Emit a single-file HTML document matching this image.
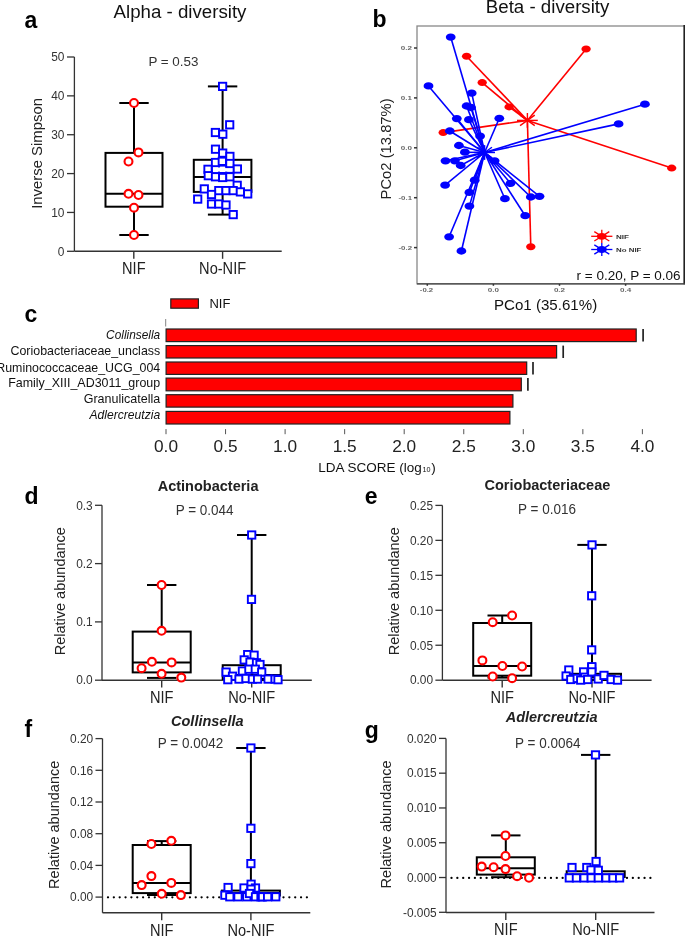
<!DOCTYPE html>
<html><head><meta charset="utf-8"><style>
html,body{margin:0;padding:0;background:#fff;overflow:hidden;}
svg{display:block;will-change:transform;font-family:"Liberation Sans", sans-serif;}
</style></head><body>
<svg width="685" height="936" viewBox="0 0 685 936">
<rect width="685" height="936" fill="#fff"/>
<text x="24.5" y="28.3" font-size="23" text-anchor="start" font-weight="bold" font-style="normal" fill="#000" >a</text>
<text x="180" y="17.5" font-size="18.7" text-anchor="middle" font-weight="normal" font-style="normal" fill="#111" >Alpha - diversity</text>
<line x1="74.4" y1="57.0" x2="74.4" y2="251.3" stroke="#333" stroke-width="1.3" />
<line x1="67.0" y1="251.3" x2="74.4" y2="251.3" stroke="#333" stroke-width="1.3" />
<text x="64.4" y="255.584" font-size="11.9" text-anchor="end" font-weight="normal" font-style="normal" fill="#333" >0</text>
<line x1="67.0" y1="212.44" x2="74.4" y2="212.44" stroke="#333" stroke-width="1.3" />
<text x="64.4" y="216.724" font-size="11.9" text-anchor="end" font-weight="normal" font-style="normal" fill="#333" >10</text>
<line x1="67.0" y1="173.58" x2="74.4" y2="173.58" stroke="#333" stroke-width="1.3" />
<text x="64.4" y="177.864" font-size="11.9" text-anchor="end" font-weight="normal" font-style="normal" fill="#333" >20</text>
<line x1="67.0" y1="134.72000000000003" x2="74.4" y2="134.72000000000003" stroke="#333" stroke-width="1.3" />
<text x="64.4" y="139.00400000000002" font-size="11.9" text-anchor="end" font-weight="normal" font-style="normal" fill="#333" >30</text>
<line x1="67.0" y1="95.86000000000001" x2="74.4" y2="95.86000000000001" stroke="#333" stroke-width="1.3" />
<text x="64.4" y="100.14400000000002" font-size="11.9" text-anchor="end" font-weight="normal" font-style="normal" fill="#333" >40</text>
<line x1="67.0" y1="57.0" x2="74.4" y2="57.0" stroke="#333" stroke-width="1.3" />
<text x="64.4" y="61.284" font-size="11.9" text-anchor="end" font-weight="normal" font-style="normal" fill="#333" >50</text>
<line x1="74.4" y1="251.3" x2="281.7" y2="251.3" stroke="#333" stroke-width="1.4" />
<line x1="133.8" y1="251.3" x2="133.8" y2="258.8" stroke="#333" stroke-width="1.4" />
<line x1="222.6" y1="251.3" x2="222.6" y2="258.8" stroke="#333" stroke-width="1.4" />
<text transform="translate(42.4,153.4) rotate(-90)" font-size="14.9" text-anchor="middle" fill="#222">Inverse Simpson</text>
<text x="173.4" y="66.3" font-size="13.4" text-anchor="middle" font-weight="normal" font-style="normal" fill="#333" >P = 0.53</text>
<text transform="translate(133.8,273.8) scale(1,1.075)" font-size="14.6" text-anchor="middle" font-weight="normal" font-style="normal" fill="#222" >NIF</text>
<text transform="translate(222.6,273.8) scale(1,1.075)" font-size="14.6" text-anchor="middle" font-weight="normal" font-style="normal" fill="#222" >No-NIF</text>
<line x1="134" y1="103" x2="134" y2="152.9" stroke="#000" stroke-width="2.0" />
<line x1="134" y1="206.7" x2="134" y2="235" stroke="#000" stroke-width="2.0" />
<line x1="119.3" y1="103" x2="148.7" y2="103" stroke="#000" stroke-width="2.0" />
<line x1="119.3" y1="235" x2="148.7" y2="235" stroke="#000" stroke-width="2.0" />
<rect x="105.5" y="152.9" width="57.0" height="53.79999999999998" fill="none" stroke="#000" stroke-width="2.0"/>
<line x1="105.5" y1="193.8" x2="162.5" y2="193.8" stroke="#000" stroke-width="2.0" />
<line x1="222.6" y1="86.4" x2="222.6" y2="159.8" stroke="#000" stroke-width="2.0" />
<line x1="222.6" y1="191.9" x2="222.6" y2="214.6" stroke="#000" stroke-width="2.0" />
<line x1="207.9" y1="86.4" x2="237.29999999999998" y2="86.4" stroke="#000" stroke-width="2.0" />
<line x1="207.9" y1="214.6" x2="237.29999999999998" y2="214.6" stroke="#000" stroke-width="2.0" />
<rect x="193.79999999999998" y="159.8" width="57.6" height="32.099999999999994" fill="none" stroke="#000" stroke-width="2.0"/>
<line x1="193.79999999999998" y1="177.1" x2="251.4" y2="177.1" stroke="#000" stroke-width="2.0" />
<circle cx="134" cy="103" r="3.95" fill="#fff" stroke="#ff0000" stroke-width="2.1"/>
<circle cx="138.5" cy="152.4" r="3.95" fill="#fff" stroke="#ff0000" stroke-width="2.1"/>
<circle cx="128.5" cy="161.5" r="3.95" fill="#fff" stroke="#ff0000" stroke-width="2.1"/>
<circle cx="128.5" cy="193.8" r="3.95" fill="#fff" stroke="#ff0000" stroke-width="2.1"/>
<circle cx="138.5" cy="195" r="3.95" fill="#fff" stroke="#ff0000" stroke-width="2.1"/>
<circle cx="134" cy="207.7" r="3.95" fill="#fff" stroke="#ff0000" stroke-width="2.1"/>
<circle cx="134" cy="235" r="3.95" fill="#fff" stroke="#ff0000" stroke-width="2.1"/>
<rect x="211.85" y="165.95" width="7.3" height="7.3" fill="#fff" stroke="#0000ff" stroke-width="1.9"/>
<rect x="219.05" y="165.65" width="7.3" height="7.3" fill="#fff" stroke="#0000ff" stroke-width="1.9"/>
<rect x="226.25" y="165.35" width="7.3" height="7.3" fill="#fff" stroke="#0000ff" stroke-width="1.9"/>
<rect x="213.0" y="167.4" width="19.6" height="4.2" fill="#fff"/>
<rect x="218.95" y="82.75" width="7.3" height="7.3" fill="#fff" stroke="#0000ff" stroke-width="1.9"/>
<rect x="226.05" y="121.15" width="7.3" height="7.3" fill="#fff" stroke="#0000ff" stroke-width="1.9"/>
<rect x="211.75" y="128.85" width="7.3" height="7.3" fill="#fff" stroke="#0000ff" stroke-width="1.9"/>
<rect x="219.15" y="130.55" width="7.3" height="7.3" fill="#fff" stroke="#0000ff" stroke-width="1.9"/>
<rect x="211.85" y="145.55" width="7.3" height="7.3" fill="#fff" stroke="#0000ff" stroke-width="1.9"/>
<rect x="219.05" y="149.45" width="7.3" height="7.3" fill="#fff" stroke="#0000ff" stroke-width="1.9"/>
<rect x="226.25" y="152.75" width="7.3" height="7.3" fill="#fff" stroke="#0000ff" stroke-width="1.9"/>
<rect x="226.25" y="159.85" width="7.3" height="7.3" fill="#fff" stroke="#0000ff" stroke-width="1.9"/>
<rect x="211.85" y="158.85" width="7.3" height="7.3" fill="#fff" stroke="#0000ff" stroke-width="1.9"/>
<rect x="218.65" y="157.65" width="7.3" height="7.3" fill="#fff" stroke="#0000ff" stroke-width="1.9"/>
<rect x="204.35" y="165.65" width="7.3" height="7.3" fill="#fff" stroke="#0000ff" stroke-width="1.9"/>
<rect x="233.75" y="165.35" width="7.3" height="7.3" fill="#fff" stroke="#0000ff" stroke-width="1.9"/>
<rect x="204.65" y="172.05" width="7.3" height="7.3" fill="#fff" stroke="#0000ff" stroke-width="1.9"/>
<rect x="211.85" y="173.15" width="7.3" height="7.3" fill="#fff" stroke="#0000ff" stroke-width="1.9"/>
<rect x="219.05" y="173.85" width="7.3" height="7.3" fill="#fff" stroke="#0000ff" stroke-width="1.9"/>
<rect x="226.25" y="173.15" width="7.3" height="7.3" fill="#fff" stroke="#0000ff" stroke-width="1.9"/>
<rect x="233.55" y="181.65" width="7.3" height="7.3" fill="#fff" stroke="#0000ff" stroke-width="1.9"/>
<rect x="200.65" y="185.25" width="7.3" height="7.3" fill="#fff" stroke="#0000ff" stroke-width="1.9"/>
<rect x="215.15" y="186.95" width="7.3" height="7.3" fill="#fff" stroke="#0000ff" stroke-width="1.9"/>
<rect x="222.35" y="186.95" width="7.3" height="7.3" fill="#fff" stroke="#0000ff" stroke-width="1.9"/>
<rect x="229.55" y="186.95" width="7.3" height="7.3" fill="#fff" stroke="#0000ff" stroke-width="1.9"/>
<rect x="236.75" y="188.25" width="7.3" height="7.3" fill="#fff" stroke="#0000ff" stroke-width="1.9"/>
<rect x="244.05" y="190.25" width="7.3" height="7.3" fill="#fff" stroke="#0000ff" stroke-width="1.9"/>
<rect x="194.05" y="195.45" width="7.3" height="7.3" fill="#fff" stroke="#0000ff" stroke-width="1.9"/>
<rect x="207.85" y="190.85" width="7.3" height="7.3" fill="#fff" stroke="#0000ff" stroke-width="1.9"/>
<rect x="207.85" y="200.35" width="7.3" height="7.3" fill="#fff" stroke="#0000ff" stroke-width="1.9"/>
<rect x="215.15" y="200.35" width="7.3" height="7.3" fill="#fff" stroke="#0000ff" stroke-width="1.9"/>
<rect x="222.35" y="201.35" width="7.3" height="7.3" fill="#fff" stroke="#0000ff" stroke-width="1.9"/>
<rect x="229.55" y="210.95" width="7.3" height="7.3" fill="#fff" stroke="#0000ff" stroke-width="1.9"/>
<text x="372.5" y="26.8" font-size="23" text-anchor="start" font-weight="bold" font-style="normal" fill="#000" >b</text>
<text x="547.6" y="13.3" font-size="18.7" text-anchor="middle" font-weight="normal" font-style="normal" fill="#111" >Beta - diversity</text>
<rect x="417" y="26.0" width="268" height="257.8" fill="none" stroke="#888" stroke-width="1.3"/>
<line x1="684.2" y1="25" x2="684.2" y2="284.3" stroke="#222" stroke-width="1.6" />
<line x1="417" y1="283.8" x2="685" y2="283.8" stroke="#444" stroke-width="1.2" />
<line x1="414" y1="48" x2="417" y2="48" stroke="#333" stroke-width="1.5" />
<text x="412" y="50.1" font-size="5.8" text-anchor="end" font-weight="bold" font-style="normal" fill="#666" textLength="11.2" lengthAdjust="spacingAndGlyphs">0.2</text>
<line x1="414" y1="97.9" x2="417" y2="97.9" stroke="#333" stroke-width="1.5" />
<text x="412" y="100.0" font-size="5.8" text-anchor="end" font-weight="bold" font-style="normal" fill="#666" textLength="11.2" lengthAdjust="spacingAndGlyphs">0.1</text>
<line x1="414" y1="147.8" x2="417" y2="147.8" stroke="#333" stroke-width="1.5" />
<text x="412" y="149.9" font-size="5.8" text-anchor="end" font-weight="bold" font-style="normal" fill="#666" textLength="11.2" lengthAdjust="spacingAndGlyphs">0.0</text>
<line x1="414" y1="197.7" x2="417" y2="197.7" stroke="#333" stroke-width="1.5" />
<text x="412" y="199.79999999999998" font-size="5.8" text-anchor="end" font-weight="bold" font-style="normal" fill="#666" textLength="13.5" lengthAdjust="spacingAndGlyphs">-0.1</text>
<line x1="414" y1="247.6" x2="417" y2="247.6" stroke="#333" stroke-width="1.5" />
<text x="412" y="249.7" font-size="5.8" text-anchor="end" font-weight="bold" font-style="normal" fill="#666" textLength="13.5" lengthAdjust="spacingAndGlyphs">-0.2</text>
<line x1="427.3" y1="284" x2="427.3" y2="285.8" stroke="#333" stroke-width="1.5" />
<text x="426.5" y="291.9" font-size="5.8" text-anchor="middle" font-weight="bold" font-style="normal" fill="#666" textLength="13.4" lengthAdjust="spacingAndGlyphs">-0.2</text>
<line x1="493.4" y1="284" x2="493.4" y2="285.8" stroke="#333" stroke-width="1.5" />
<text x="493.4" y="291.9" font-size="5.8" text-anchor="middle" font-weight="bold" font-style="normal" fill="#666" textLength="11.2" lengthAdjust="spacingAndGlyphs">0.0</text>
<line x1="559.5" y1="284" x2="559.5" y2="285.8" stroke="#333" stroke-width="1.5" />
<text x="559.5" y="291.9" font-size="5.8" text-anchor="middle" font-weight="bold" font-style="normal" fill="#666" textLength="11.2" lengthAdjust="spacingAndGlyphs">0.2</text>
<line x1="625.6" y1="284" x2="625.6" y2="285.8" stroke="#333" stroke-width="1.5" />
<text x="625.6" y="291.9" font-size="5.8" text-anchor="middle" font-weight="bold" font-style="normal" fill="#666" textLength="11.2" lengthAdjust="spacingAndGlyphs">0.4</text>
<text transform="translate(391.2,148.9) rotate(-90)" font-size="14.8" text-anchor="middle" fill="#222">PCo2 (13.87%)</text>
<text x="545.6" y="309.9" font-size="15.1" text-anchor="middle" font-weight="normal" font-style="normal" fill="#111" >PCo1 (35.61%)</text>
<text x="680.6" y="280.3" font-size="13.5" text-anchor="end" font-weight="normal" font-style="normal" fill="#111" >r = 0.20, P = 0.06</text>
<line x1="527.4" y1="120.4" x2="586.1" y2="49" stroke="#ff0000" stroke-width="1.6" />
<line x1="527.4" y1="120.4" x2="466.6" y2="56.2" stroke="#ff0000" stroke-width="1.6" />
<line x1="527.4" y1="120.4" x2="482.2" y2="82.6" stroke="#ff0000" stroke-width="1.6" />
<line x1="527.4" y1="120.4" x2="509.1" y2="106.9" stroke="#ff0000" stroke-width="1.6" />
<line x1="527.4" y1="120.4" x2="443.2" y2="132.6" stroke="#ff0000" stroke-width="1.6" />
<line x1="527.4" y1="120.4" x2="671.7" y2="168.1" stroke="#ff0000" stroke-width="1.6" />
<line x1="527.4" y1="120.4" x2="530.8" y2="246.8" stroke="#ff0000" stroke-width="1.6" />
<line x1="484.6" y1="152.5" x2="450.7" y2="37.1" stroke="#0000ff" stroke-width="1.6" />
<line x1="484.6" y1="152.5" x2="428.5" y2="85.9" stroke="#0000ff" stroke-width="1.6" />
<line x1="484.6" y1="152.5" x2="471.7" y2="93.1" stroke="#0000ff" stroke-width="1.6" />
<line x1="484.6" y1="152.5" x2="466.6" y2="106" stroke="#0000ff" stroke-width="1.6" />
<line x1="484.6" y1="152.5" x2="471" y2="107.5" stroke="#0000ff" stroke-width="1.6" />
<line x1="484.6" y1="152.5" x2="456.8" y2="118.6" stroke="#0000ff" stroke-width="1.6" />
<line x1="484.6" y1="152.5" x2="468.9" y2="119.7" stroke="#0000ff" stroke-width="1.6" />
<line x1="484.6" y1="152.5" x2="499.3" y2="118.3" stroke="#0000ff" stroke-width="1.6" />
<line x1="484.6" y1="152.5" x2="449.8" y2="131" stroke="#0000ff" stroke-width="1.6" />
<line x1="484.6" y1="152.5" x2="480.1" y2="136.1" stroke="#0000ff" stroke-width="1.6" />
<line x1="484.6" y1="152.5" x2="458.9" y2="145.5" stroke="#0000ff" stroke-width="1.6" />
<line x1="484.6" y1="152.5" x2="464.9" y2="152.2" stroke="#0000ff" stroke-width="1.6" />
<line x1="484.6" y1="152.5" x2="445.5" y2="160.8" stroke="#0000ff" stroke-width="1.6" />
<line x1="484.6" y1="152.5" x2="454.9" y2="160.8" stroke="#0000ff" stroke-width="1.6" />
<line x1="484.6" y1="152.5" x2="460.7" y2="165.5" stroke="#0000ff" stroke-width="1.6" />
<line x1="484.6" y1="152.5" x2="494.6" y2="160.8" stroke="#0000ff" stroke-width="1.6" />
<line x1="484.6" y1="152.5" x2="474.7" y2="180.2" stroke="#0000ff" stroke-width="1.6" />
<line x1="484.6" y1="152.5" x2="445.1" y2="185.1" stroke="#0000ff" stroke-width="1.6" />
<line x1="484.6" y1="152.5" x2="510.5" y2="183.3" stroke="#0000ff" stroke-width="1.6" />
<line x1="484.6" y1="152.5" x2="469.4" y2="192.4" stroke="#0000ff" stroke-width="1.6" />
<line x1="484.6" y1="152.5" x2="504.9" y2="198.7" stroke="#0000ff" stroke-width="1.6" />
<line x1="484.6" y1="152.5" x2="469.4" y2="206.1" stroke="#0000ff" stroke-width="1.6" />
<line x1="484.6" y1="152.5" x2="530.8" y2="197" stroke="#0000ff" stroke-width="1.6" />
<line x1="484.6" y1="152.5" x2="539.5" y2="196.3" stroke="#0000ff" stroke-width="1.6" />
<line x1="484.6" y1="152.5" x2="525.2" y2="215.7" stroke="#0000ff" stroke-width="1.6" />
<line x1="484.6" y1="152.5" x2="449.1" y2="236.8" stroke="#0000ff" stroke-width="1.6" />
<line x1="484.6" y1="152.5" x2="461.4" y2="251" stroke="#0000ff" stroke-width="1.6" />
<line x1="484.6" y1="152.5" x2="644.9" y2="104.2" stroke="#0000ff" stroke-width="1.6" />
<line x1="484.6" y1="152.5" x2="618.6" y2="123.9" stroke="#0000ff" stroke-width="1.6" />
<ellipse cx="586.1" cy="49" rx="4.7" ry="3.5" fill="#ff0000"/>
<ellipse cx="466.6" cy="56.2" rx="4.7" ry="3.5" fill="#ff0000"/>
<ellipse cx="482.2" cy="82.6" rx="4.7" ry="3.5" fill="#ff0000"/>
<ellipse cx="509.1" cy="106.9" rx="4.7" ry="3.5" fill="#ff0000"/>
<ellipse cx="443.2" cy="132.6" rx="4.7" ry="3.5" fill="#ff0000"/>
<ellipse cx="671.7" cy="168.1" rx="4.7" ry="3.5" fill="#ff0000"/>
<ellipse cx="530.8" cy="246.8" rx="4.7" ry="3.5" fill="#ff0000"/>
<ellipse cx="450.7" cy="37.1" rx="4.9" ry="3.65" fill="#0000ff"/>
<ellipse cx="428.5" cy="85.9" rx="4.9" ry="3.65" fill="#0000ff"/>
<ellipse cx="471.7" cy="93.1" rx="4.9" ry="3.65" fill="#0000ff"/>
<ellipse cx="466.6" cy="106" rx="4.9" ry="3.65" fill="#0000ff"/>
<ellipse cx="471" cy="107.5" rx="4.9" ry="3.65" fill="#0000ff"/>
<ellipse cx="456.8" cy="118.6" rx="4.9" ry="3.65" fill="#0000ff"/>
<ellipse cx="468.9" cy="119.7" rx="4.9" ry="3.65" fill="#0000ff"/>
<ellipse cx="499.3" cy="118.3" rx="4.9" ry="3.65" fill="#0000ff"/>
<ellipse cx="449.8" cy="131" rx="4.9" ry="3.65" fill="#0000ff"/>
<ellipse cx="480.1" cy="136.1" rx="4.9" ry="3.65" fill="#0000ff"/>
<ellipse cx="458.9" cy="145.5" rx="4.9" ry="3.65" fill="#0000ff"/>
<ellipse cx="464.9" cy="152.2" rx="4.9" ry="3.65" fill="#0000ff"/>
<ellipse cx="445.5" cy="160.8" rx="4.9" ry="3.65" fill="#0000ff"/>
<ellipse cx="454.9" cy="160.8" rx="4.9" ry="3.65" fill="#0000ff"/>
<ellipse cx="460.7" cy="165.5" rx="4.9" ry="3.65" fill="#0000ff"/>
<ellipse cx="494.6" cy="160.8" rx="4.9" ry="3.65" fill="#0000ff"/>
<ellipse cx="474.7" cy="180.2" rx="4.9" ry="3.65" fill="#0000ff"/>
<ellipse cx="445.1" cy="185.1" rx="4.9" ry="3.65" fill="#0000ff"/>
<ellipse cx="510.5" cy="183.3" rx="4.9" ry="3.65" fill="#0000ff"/>
<ellipse cx="469.4" cy="192.4" rx="4.9" ry="3.65" fill="#0000ff"/>
<ellipse cx="504.9" cy="198.7" rx="4.9" ry="3.65" fill="#0000ff"/>
<ellipse cx="469.4" cy="206.1" rx="4.9" ry="3.65" fill="#0000ff"/>
<ellipse cx="530.8" cy="197" rx="4.9" ry="3.65" fill="#0000ff"/>
<ellipse cx="539.5" cy="196.3" rx="4.9" ry="3.65" fill="#0000ff"/>
<ellipse cx="525.2" cy="215.7" rx="4.9" ry="3.65" fill="#0000ff"/>
<ellipse cx="449.1" cy="236.8" rx="4.9" ry="3.65" fill="#0000ff"/>
<ellipse cx="461.4" cy="251" rx="4.9" ry="3.65" fill="#0000ff"/>
<ellipse cx="644.9" cy="104.2" rx="4.9" ry="3.65" fill="#0000ff"/>
<ellipse cx="618.6" cy="123.9" rx="4.9" ry="3.65" fill="#0000ff"/>
<line x1="517.0" y1="120.4" x2="537.8" y2="120.4" stroke="#ff0000" stroke-width="1.4" />
<line x1="520.0460894756599" y1="115.16740981921956" x2="534.7539105243401" y2="125.63259018078045" stroke="#ff0000" stroke-width="1.4" />
<line x1="527.4" y1="113.0" x2="527.4" y2="127.80000000000001" stroke="#ff0000" stroke-width="1.4" />
<line x1="534.7539105243401" y1="115.16740981921956" x2="520.0460894756599" y2="125.63259018078045" stroke="#ff0000" stroke-width="1.4" />
<line x1="474.20000000000005" y1="152.5" x2="495.0" y2="152.5" stroke="#0000ff" stroke-width="1.4" />
<line x1="477.2460894756599" y1="147.26740981921955" x2="491.95391052434013" y2="157.73259018078045" stroke="#0000ff" stroke-width="1.4" />
<line x1="484.6" y1="145.1" x2="484.6" y2="159.9" stroke="#0000ff" stroke-width="1.4" />
<line x1="491.95391052434013" y1="147.26740981921955" x2="477.2460894756599" y2="157.73259018078045" stroke="#0000ff" stroke-width="1.4" />
<line x1="591.1999999999999" y1="236.3" x2="612.4" y2="236.3" stroke="#ff0000" stroke-width="1.3" />
<line x1="594.3046681194226" y1="231.6330952441688" x2="609.2953318805774" y2="240.96690475583122" stroke="#ff0000" stroke-width="1.3" />
<line x1="601.8" y1="229.70000000000002" x2="601.8" y2="242.9" stroke="#ff0000" stroke-width="1.3" />
<line x1="609.2953318805774" y1="231.6330952441688" x2="594.3046681194226" y2="240.96690475583122" stroke="#ff0000" stroke-width="1.3" />
<ellipse cx="601.8" cy="236.3" rx="5" ry="3.4" fill="#ff0000"/>
<line x1="591.1999999999999" y1="249.5" x2="612.4" y2="249.5" stroke="#0000ff" stroke-width="1.3" />
<line x1="594.3046681194226" y1="244.8330952441688" x2="609.2953318805774" y2="254.1669047558312" stroke="#0000ff" stroke-width="1.3" />
<line x1="601.8" y1="242.9" x2="601.8" y2="256.1" stroke="#0000ff" stroke-width="1.3" />
<line x1="609.2953318805774" y1="244.8330952441688" x2="594.3046681194226" y2="254.1669047558312" stroke="#0000ff" stroke-width="1.3" />
<ellipse cx="601.8" cy="249.5" rx="5" ry="3.4" fill="#0000ff"/>
<text x="616" y="239.2" font-size="5.8" text-anchor="start" font-weight="bold" font-style="normal" fill="#333" textLength="13" lengthAdjust="spacingAndGlyphs">NIF</text>
<text x="616" y="252.4" font-size="5.8" text-anchor="start" font-weight="bold" font-style="normal" fill="#333" textLength="25.4" lengthAdjust="spacingAndGlyphs">No NIF</text>
<text x="24.5" y="321.8" font-size="23" text-anchor="start" font-weight="bold" font-style="normal" fill="#000" >c</text>
<rect x="170.8" y="298.9" width="27.6" height="9.3" fill="#ff0000" stroke="#222" stroke-width="1.2"/>
<text x="209.4" y="308.1" font-size="13.0" text-anchor="start" font-weight="normal" font-style="normal" fill="#111" >NIF</text>
<rect x="166.1" y="329.0" width="470.1" height="12.600000000000023" fill="#ff0000" stroke="#222" stroke-width="1.2"/>
<line x1="643.1" y1="329.0" x2="643.1" y2="341.6" stroke="#222" stroke-width="1.7" />
<text x="160.2" y="339.4" font-size="12.8" text-anchor="end" font-weight="normal" font-style="italic" fill="#111" textLength="54.1" lengthAdjust="spacingAndGlyphs">Collinsella</text>
<rect x="166.1" y="345.6" width="390.5" height="12.399999999999977" fill="#ff0000" stroke="#222" stroke-width="1.2"/>
<line x1="563.2" y1="345.6" x2="563.2" y2="358.0" stroke="#222" stroke-width="1.7" />
<text x="160.2" y="354.6" font-size="12.8" text-anchor="end" font-weight="normal" font-style="normal" fill="#111" textLength="149.7" lengthAdjust="spacingAndGlyphs">Coriobacteriaceae_unclass</text>
<rect x="166.1" y="362.0" width="360.6" height="12.399999999999977" fill="#ff0000" stroke="#222" stroke-width="1.2"/>
<line x1="533" y1="362.0" x2="533" y2="374.4" stroke="#222" stroke-width="1.7" />
<text x="160.2" y="371.5" font-size="12.8" text-anchor="end" font-weight="normal" font-style="normal" fill="#111" textLength="164" lengthAdjust="spacingAndGlyphs">Ruminococcaceae_UCG_004</text>
<rect x="166.1" y="378.1" width="355.19999999999993" height="12.699999999999989" fill="#ff0000" stroke="#222" stroke-width="1.2"/>
<line x1="527.9" y1="378.1" x2="527.9" y2="390.8" stroke="#222" stroke-width="1.7" />
<text x="160.2" y="387.0" font-size="12.8" text-anchor="end" font-weight="normal" font-style="normal" fill="#111" textLength="152" lengthAdjust="spacingAndGlyphs">Family_XIII_AD3011_group</text>
<rect x="166.1" y="394.7" width="346.79999999999995" height="12.400000000000034" fill="#ff0000" stroke="#222" stroke-width="1.2"/>
<text x="160.2" y="403.2" font-size="12.8" text-anchor="end" font-weight="normal" font-style="normal" fill="#111" textLength="76.5" lengthAdjust="spacingAndGlyphs">Granulicatella</text>
<rect x="166.1" y="411.4" width="343.79999999999995" height="12.600000000000023" fill="#ff0000" stroke="#222" stroke-width="1.2"/>
<text x="160.2" y="419.4" font-size="12.8" text-anchor="end" font-weight="normal" font-style="italic" fill="#111" textLength="70.7" lengthAdjust="spacingAndGlyphs">Adlercreutzia</text>
<line x1="165.7" y1="319" x2="165.7" y2="326.5" stroke="#777" stroke-width="0.9" />
<line x1="166.0" y1="429.1" x2="166.0" y2="434.2" stroke="#555" stroke-width="1" />
<text x="166.0" y="452.4" font-size="16.6" text-anchor="middle" font-weight="normal" font-style="normal" fill="#222" textLength="24" lengthAdjust="spacingAndGlyphs">0.0</text>
<line x1="225.55" y1="429.1" x2="225.55" y2="434.2" stroke="#555" stroke-width="1" />
<text x="225.55" y="452.4" font-size="16.6" text-anchor="middle" font-weight="normal" font-style="normal" fill="#222" textLength="24" lengthAdjust="spacingAndGlyphs">0.5</text>
<line x1="285.1" y1="429.1" x2="285.1" y2="434.2" stroke="#555" stroke-width="1" />
<text x="285.1" y="452.4" font-size="16.6" text-anchor="middle" font-weight="normal" font-style="normal" fill="#222" textLength="24" lengthAdjust="spacingAndGlyphs">1.0</text>
<line x1="344.65" y1="429.1" x2="344.65" y2="434.2" stroke="#555" stroke-width="1" />
<text x="344.65" y="452.4" font-size="16.6" text-anchor="middle" font-weight="normal" font-style="normal" fill="#222" textLength="24" lengthAdjust="spacingAndGlyphs">1.5</text>
<line x1="404.2" y1="429.1" x2="404.2" y2="434.2" stroke="#555" stroke-width="1" />
<text x="404.2" y="452.4" font-size="16.6" text-anchor="middle" font-weight="normal" font-style="normal" fill="#222" textLength="24" lengthAdjust="spacingAndGlyphs">2.0</text>
<line x1="463.75" y1="429.1" x2="463.75" y2="434.2" stroke="#555" stroke-width="1" />
<text x="463.75" y="452.4" font-size="16.6" text-anchor="middle" font-weight="normal" font-style="normal" fill="#222" textLength="24" lengthAdjust="spacingAndGlyphs">2.5</text>
<line x1="523.3" y1="429.1" x2="523.3" y2="434.2" stroke="#555" stroke-width="1" />
<text x="523.3" y="452.4" font-size="16.6" text-anchor="middle" font-weight="normal" font-style="normal" fill="#222" textLength="24" lengthAdjust="spacingAndGlyphs">3.0</text>
<line x1="582.8499999999999" y1="429.1" x2="582.8499999999999" y2="434.2" stroke="#555" stroke-width="1" />
<text x="582.8499999999999" y="452.4" font-size="16.6" text-anchor="middle" font-weight="normal" font-style="normal" fill="#222" textLength="24" lengthAdjust="spacingAndGlyphs">3.5</text>
<line x1="642.4" y1="429.1" x2="642.4" y2="434.2" stroke="#555" stroke-width="1" />
<text x="642.4" y="452.4" font-size="16.6" text-anchor="middle" font-weight="normal" font-style="normal" fill="#222" textLength="24" lengthAdjust="spacingAndGlyphs">4.0</text>
<text x="318.3" y="471.8" font-size="13.5" fill="#111">LDA SCORE (log<tspan font-size="7.2" dx="0.6">10</tspan><tspan dx="0.8">)</tspan></text>
<text x="24.5" y="504" font-size="23" text-anchor="start" font-weight="bold" font-style="normal" fill="#000" >d</text>
<text x="208.1" y="491.2" font-size="14.5" text-anchor="middle" font-weight="bold" font-style="normal" fill="#222" >Actinobacteria</text>
<text transform="translate(204.6,514.7) scale(1,1.055)" font-size="13.5" text-anchor="middle" font-weight="normal" font-style="normal" fill="#333" >P = 0.044</text>
<line x1="102" y1="505.30000000000007" x2="102" y2="680.2" stroke="#333" stroke-width="1.3" />
<line x1="95.0" y1="680.2" x2="102" y2="680.2" stroke="#333" stroke-width="1.3" />
<text x="92.7" y="684.484" font-size="11.9" text-anchor="end" font-weight="normal" font-style="normal" fill="#333" >0.0</text>
<line x1="95.0" y1="621.9000000000001" x2="102" y2="621.9000000000001" stroke="#333" stroke-width="1.3" />
<text x="92.7" y="626.1840000000001" font-size="11.9" text-anchor="end" font-weight="normal" font-style="normal" fill="#333" >0.1</text>
<line x1="95.0" y1="563.6" x2="102" y2="563.6" stroke="#333" stroke-width="1.3" />
<text x="92.7" y="567.884" font-size="11.9" text-anchor="end" font-weight="normal" font-style="normal" fill="#333" >0.2</text>
<line x1="95.0" y1="505.30000000000007" x2="102" y2="505.30000000000007" stroke="#333" stroke-width="1.3" />
<text x="92.7" y="509.58400000000006" font-size="11.9" text-anchor="end" font-weight="normal" font-style="normal" fill="#333" >0.3</text>
<line x1="102" y1="680.2" x2="311.8" y2="680.2" stroke="#333" stroke-width="1.4" />
<line x1="161.7" y1="680.2" x2="161.7" y2="687.6" stroke="#333" stroke-width="1.4" />
<line x1="251.7" y1="680.2" x2="251.7" y2="687.6" stroke="#333" stroke-width="1.4" />
<text transform="translate(64.7,591.2) rotate(-90)" font-size="14.5" text-anchor="middle" fill="#222">Relative abundance</text>
<text transform="translate(161.7,702.5) scale(1,1.075)" font-size="14.6" text-anchor="middle" font-weight="normal" font-style="normal" fill="#222" >NIF</text>
<text transform="translate(251.7,702.5) scale(1,1.075)" font-size="14.6" text-anchor="middle" font-weight="normal" font-style="normal" fill="#222" >No-NIF</text>
<line x1="161.7" y1="585" x2="161.7" y2="631.6" stroke="#000" stroke-width="2.0" />
<line x1="161.7" y1="672.4" x2="161.7" y2="677.9" stroke="#000" stroke-width="2.0" />
<line x1="147.0" y1="585" x2="176.39999999999998" y2="585" stroke="#000" stroke-width="2.0" />
<line x1="147.0" y1="677.9" x2="176.39999999999998" y2="677.9" stroke="#000" stroke-width="2.0" />
<rect x="132.7" y="631.6" width="58" height="40.799999999999955" fill="none" stroke="#000" stroke-width="2.0"/>
<line x1="132.7" y1="662.4" x2="190.7" y2="662.4" stroke="#000" stroke-width="2.0" />
<line x1="251.7" y1="535" x2="251.7" y2="665.2" stroke="#000" stroke-width="2.0" />
<line x1="251.7" y1="679" x2="251.7" y2="680" stroke="#000" stroke-width="2.0" />
<line x1="237.0" y1="535" x2="266.4" y2="535" stroke="#000" stroke-width="2.0" />
<line x1="237.0" y1="680" x2="266.4" y2="680" stroke="#000" stroke-width="2.0" />
<rect x="222.7" y="665.2" width="58" height="13.799999999999955" fill="none" stroke="#000" stroke-width="2.0"/>
<line x1="222.7" y1="675" x2="280.7" y2="675" stroke="#000" stroke-width="2.0" />
<circle cx="161.6" cy="585" r="3.95" fill="#fff" stroke="#ff0000" stroke-width="2.1"/>
<circle cx="161.6" cy="630.8" r="3.95" fill="#fff" stroke="#ff0000" stroke-width="2.1"/>
<circle cx="151.9" cy="661.8" r="3.95" fill="#fff" stroke="#ff0000" stroke-width="2.1"/>
<circle cx="171.6" cy="662.4" r="3.95" fill="#fff" stroke="#ff0000" stroke-width="2.1"/>
<circle cx="141.6" cy="668.2" r="3.95" fill="#fff" stroke="#ff0000" stroke-width="2.1"/>
<circle cx="161.6" cy="673.8" r="3.95" fill="#fff" stroke="#ff0000" stroke-width="2.1"/>
<circle cx="181.3" cy="677.6" r="3.95" fill="#fff" stroke="#ff0000" stroke-width="2.1"/>
<rect x="248.05" y="531.35" width="7.3" height="7.3" fill="#fff" stroke="#0000ff" stroke-width="1.9"/>
<rect x="247.85" y="595.75" width="7.3" height="7.3" fill="#fff" stroke="#0000ff" stroke-width="1.9"/>
<rect x="244.05" y="650.95" width="7.3" height="7.3" fill="#fff" stroke="#0000ff" stroke-width="1.9"/>
<rect x="250.45" y="651.55" width="7.3" height="7.3" fill="#fff" stroke="#0000ff" stroke-width="1.9"/>
<rect x="240.55" y="656.25" width="7.3" height="7.3" fill="#fff" stroke="#0000ff" stroke-width="1.9"/>
<rect x="246.35" y="658.55" width="7.3" height="7.3" fill="#fff" stroke="#0000ff" stroke-width="1.9"/>
<rect x="252.85" y="659.15" width="7.3" height="7.3" fill="#fff" stroke="#0000ff" stroke-width="1.9"/>
<rect x="256.35" y="660.85" width="7.3" height="7.3" fill="#fff" stroke="#0000ff" stroke-width="1.9"/>
<rect x="238.75" y="667.35" width="7.3" height="7.3" fill="#fff" stroke="#0000ff" stroke-width="1.9"/>
<rect x="245.25" y="665.55" width="7.3" height="7.3" fill="#fff" stroke="#0000ff" stroke-width="1.9"/>
<rect x="251.65" y="665.55" width="7.3" height="7.3" fill="#fff" stroke="#0000ff" stroke-width="1.9"/>
<rect x="258.05" y="668.45" width="7.3" height="7.3" fill="#fff" stroke="#0000ff" stroke-width="1.9"/>
<rect x="222.45" y="668.45" width="7.3" height="7.3" fill="#fff" stroke="#0000ff" stroke-width="1.9"/>
<rect x="228.85" y="672.55" width="7.3" height="7.3" fill="#fff" stroke="#0000ff" stroke-width="1.9"/>
<rect x="235.35" y="675.45" width="7.3" height="7.3" fill="#fff" stroke="#0000ff" stroke-width="1.9"/>
<rect x="242.35" y="674.85" width="7.3" height="7.3" fill="#fff" stroke="#0000ff" stroke-width="1.9"/>
<rect x="248.75" y="675.45" width="7.3" height="7.3" fill="#fff" stroke="#0000ff" stroke-width="1.9"/>
<rect x="253.95" y="675.45" width="7.3" height="7.3" fill="#fff" stroke="#0000ff" stroke-width="1.9"/>
<rect x="264.45" y="675.45" width="7.3" height="7.3" fill="#fff" stroke="#0000ff" stroke-width="1.9"/>
<rect x="271.45" y="675.45" width="7.3" height="7.3" fill="#fff" stroke="#0000ff" stroke-width="1.9"/>
<rect x="224.15" y="676.05" width="7.3" height="7.3" fill="#fff" stroke="#0000ff" stroke-width="1.9"/>
<rect x="274.35" y="676.05" width="7.3" height="7.3" fill="#fff" stroke="#0000ff" stroke-width="1.9"/>
<text x="364.8" y="504.3" font-size="23" text-anchor="start" font-weight="bold" font-style="normal" fill="#000" >e</text>
<text x="547.4" y="490.2" font-size="14.5" text-anchor="middle" font-weight="bold" font-style="normal" fill="#222" >Coriobacteriaceae</text>
<text transform="translate(547,514.4) scale(1,1.055)" font-size="13.5" text-anchor="middle" font-weight="normal" font-style="normal" fill="#333" >P = 0.016</text>
<line x1="442.4" y1="505.40000000000003" x2="442.4" y2="680.2" stroke="#333" stroke-width="1.3" />
<line x1="435.4" y1="680.2" x2="442.4" y2="680.2" stroke="#333" stroke-width="1.3" />
<text x="433.09999999999997" y="684.484" font-size="11.9" text-anchor="end" font-weight="normal" font-style="normal" fill="#333" >0.00</text>
<line x1="435.4" y1="645.24" x2="442.4" y2="645.24" stroke="#333" stroke-width="1.3" />
<text x="433.09999999999997" y="649.524" font-size="11.9" text-anchor="end" font-weight="normal" font-style="normal" fill="#333" >0.05</text>
<line x1="435.4" y1="610.2800000000001" x2="442.4" y2="610.2800000000001" stroke="#333" stroke-width="1.3" />
<text x="433.09999999999997" y="614.5640000000001" font-size="11.9" text-anchor="end" font-weight="normal" font-style="normal" fill="#333" >0.10</text>
<line x1="435.4" y1="575.32" x2="442.4" y2="575.32" stroke="#333" stroke-width="1.3" />
<text x="433.09999999999997" y="579.604" font-size="11.9" text-anchor="end" font-weight="normal" font-style="normal" fill="#333" >0.15</text>
<line x1="435.4" y1="540.36" x2="442.4" y2="540.36" stroke="#333" stroke-width="1.3" />
<text x="433.09999999999997" y="544.644" font-size="11.9" text-anchor="end" font-weight="normal" font-style="normal" fill="#333" >0.20</text>
<line x1="435.4" y1="505.40000000000003" x2="442.4" y2="505.40000000000003" stroke="#333" stroke-width="1.3" />
<text x="433.09999999999997" y="509.684" font-size="11.9" text-anchor="end" font-weight="normal" font-style="normal" fill="#333" >0.25</text>
<line x1="442.4" y1="680.2" x2="651.6" y2="680.2" stroke="#333" stroke-width="1.4" />
<line x1="502.2" y1="680.2" x2="502.2" y2="687.6" stroke="#333" stroke-width="1.4" />
<line x1="592" y1="680.2" x2="592" y2="687.6" stroke="#333" stroke-width="1.4" />
<text transform="translate(399.0,591.2) rotate(-90)" font-size="14.5" text-anchor="middle" fill="#222">Relative abundance</text>
<text transform="translate(502.2,702.5) scale(1,1.075)" font-size="14.6" text-anchor="middle" font-weight="normal" font-style="normal" fill="#222" >NIF</text>
<text transform="translate(592,702.5) scale(1,1.075)" font-size="14.6" text-anchor="middle" font-weight="normal" font-style="normal" fill="#222" >No-NIF</text>
<line x1="502.2" y1="615.5" x2="502.2" y2="623" stroke="#000" stroke-width="2.0" />
<line x1="502.2" y1="675.7" x2="502.2" y2="677.6" stroke="#000" stroke-width="2.0" />
<line x1="487.5" y1="615.5" x2="516.9" y2="615.5" stroke="#000" stroke-width="2.0" />
<line x1="487.5" y1="677.6" x2="516.9" y2="677.6" stroke="#000" stroke-width="2.0" />
<rect x="473.2" y="623" width="58" height="52.700000000000045" fill="none" stroke="#000" stroke-width="2.0"/>
<line x1="473.2" y1="666" x2="531.2" y2="666" stroke="#000" stroke-width="2.0" />
<line x1="592" y1="544.9" x2="592" y2="673.8" stroke="#000" stroke-width="2.0" />
<line x1="592" y1="679.5" x2="592" y2="680" stroke="#000" stroke-width="2.0" />
<line x1="577.3" y1="544.9" x2="606.7" y2="544.9" stroke="#000" stroke-width="2.0" />
<line x1="577.3" y1="680" x2="606.7" y2="680" stroke="#000" stroke-width="2.0" />
<rect x="563" y="673.8" width="58" height="5.7000000000000455" fill="none" stroke="#000" stroke-width="2.0"/>
<line x1="563" y1="677" x2="621" y2="677" stroke="#000" stroke-width="2.0" />
<circle cx="512.1" cy="615.5" r="3.95" fill="#fff" stroke="#ff0000" stroke-width="2.1"/>
<circle cx="492.7" cy="622.2" r="3.95" fill="#fff" stroke="#ff0000" stroke-width="2.1"/>
<circle cx="482.4" cy="660.4" r="3.95" fill="#fff" stroke="#ff0000" stroke-width="2.1"/>
<circle cx="502.4" cy="666" r="3.95" fill="#fff" stroke="#ff0000" stroke-width="2.1"/>
<circle cx="522.1" cy="666.5" r="3.95" fill="#fff" stroke="#ff0000" stroke-width="2.1"/>
<circle cx="492.7" cy="676.5" r="3.95" fill="#fff" stroke="#ff0000" stroke-width="2.1"/>
<circle cx="512.1" cy="678.2" r="3.95" fill="#fff" stroke="#ff0000" stroke-width="2.1"/>
<rect x="588.35" y="541.25" width="7.3" height="7.3" fill="#fff" stroke="#0000ff" stroke-width="1.9"/>
<rect x="588.05" y="592.15" width="7.3" height="7.3" fill="#fff" stroke="#0000ff" stroke-width="1.9"/>
<rect x="588.05" y="646.25" width="7.3" height="7.3" fill="#fff" stroke="#0000ff" stroke-width="1.9"/>
<rect x="588.05" y="664.05" width="7.3" height="7.3" fill="#fff" stroke="#0000ff" stroke-width="1.9"/>
<rect x="565.15" y="666.35" width="7.3" height="7.3" fill="#fff" stroke="#0000ff" stroke-width="1.9"/>
<rect x="562.45" y="672.35" width="7.3" height="7.3" fill="#fff" stroke="#0000ff" stroke-width="1.9"/>
<rect x="567.15" y="675.85" width="7.3" height="7.3" fill="#fff" stroke="#0000ff" stroke-width="1.9"/>
<rect x="573.55" y="674.75" width="7.3" height="7.3" fill="#fff" stroke="#0000ff" stroke-width="1.9"/>
<rect x="579.95" y="668.25" width="7.3" height="7.3" fill="#fff" stroke="#0000ff" stroke-width="1.9"/>
<rect x="581.15" y="673.55" width="7.3" height="7.3" fill="#fff" stroke="#0000ff" stroke-width="1.9"/>
<rect x="588.15" y="663.05" width="7.3" height="7.3" fill="#fff" stroke="#0000ff" stroke-width="1.9"/>
<rect x="588.15" y="668.25" width="7.3" height="7.3" fill="#fff" stroke="#0000ff" stroke-width="1.9"/>
<rect x="594.55" y="675.35" width="7.3" height="7.3" fill="#fff" stroke="#0000ff" stroke-width="1.9"/>
<rect x="600.35" y="671.75" width="7.3" height="7.3" fill="#fff" stroke="#0000ff" stroke-width="1.9"/>
<rect x="607.45" y="675.85" width="7.3" height="7.3" fill="#fff" stroke="#0000ff" stroke-width="1.9"/>
<rect x="613.85" y="676.45" width="7.3" height="7.3" fill="#fff" stroke="#0000ff" stroke-width="1.9"/>
<rect x="577.05" y="676.45" width="7.3" height="7.3" fill="#fff" stroke="#0000ff" stroke-width="1.9"/>
<rect x="584.05" y="675.85" width="7.3" height="7.3" fill="#fff" stroke="#0000ff" stroke-width="1.9"/>
<text x="24.5" y="737.1" font-size="23" text-anchor="start" font-weight="bold" font-style="normal" fill="#000" >f</text>
<text x="207.3" y="725.8" font-size="14.5" text-anchor="middle" font-weight="bold" font-style="italic" fill="#222" >Collinsella</text>
<text transform="translate(190.5,748.0) scale(1,1.055)" font-size="13.5" text-anchor="middle" font-weight="normal" font-style="normal" fill="#333" >P = 0.0042</text>
<line x1="102.5" y1="738.6" x2="102.5" y2="912.8" stroke="#333" stroke-width="1.3" />
<line x1="95.5" y1="897.1" x2="102.5" y2="897.1" stroke="#333" stroke-width="1.3" />
<text x="93.2" y="901.384" font-size="11.9" text-anchor="end" font-weight="normal" font-style="normal" fill="#333" >0.00</text>
<line x1="95.5" y1="865.4" x2="102.5" y2="865.4" stroke="#333" stroke-width="1.3" />
<text x="93.2" y="869.684" font-size="11.9" text-anchor="end" font-weight="normal" font-style="normal" fill="#333" >0.04</text>
<line x1="95.5" y1="833.7" x2="102.5" y2="833.7" stroke="#333" stroke-width="1.3" />
<text x="93.2" y="837.984" font-size="11.9" text-anchor="end" font-weight="normal" font-style="normal" fill="#333" >0.08</text>
<line x1="95.5" y1="802.0" x2="102.5" y2="802.0" stroke="#333" stroke-width="1.3" />
<text x="93.2" y="806.284" font-size="11.9" text-anchor="end" font-weight="normal" font-style="normal" fill="#333" >0.12</text>
<line x1="95.5" y1="770.3000000000001" x2="102.5" y2="770.3000000000001" stroke="#333" stroke-width="1.3" />
<text x="93.2" y="774.5840000000001" font-size="11.9" text-anchor="end" font-weight="normal" font-style="normal" fill="#333" >0.16</text>
<line x1="95.5" y1="738.6" x2="102.5" y2="738.6" stroke="#333" stroke-width="1.3" />
<text x="93.2" y="742.884" font-size="11.9" text-anchor="end" font-weight="normal" font-style="normal" fill="#333" >0.20</text>
<line x1="102.5" y1="912.8" x2="310.3" y2="912.8" stroke="#333" stroke-width="1.4" />
<line x1="161.7" y1="912.8" x2="161.7" y2="920.1999999999999" stroke="#333" stroke-width="1.4" />
<line x1="250.9" y1="912.8" x2="250.9" y2="920.1999999999999" stroke="#333" stroke-width="1.4" />
<line x1="108.0" y1="897.3" x2="307.5" y2="897.3" stroke="#000" stroke-width="2.3" stroke-dasharray="0 5.85" stroke-linecap="round"/>
<text transform="translate(58.9,824.8) rotate(-90)" font-size="14.5" text-anchor="middle" fill="#222">Relative abundance</text>
<text transform="translate(161.7,935.5999999999999) scale(1,1.075)" font-size="14.6" text-anchor="middle" font-weight="normal" font-style="normal" fill="#222" >NIF</text>
<text transform="translate(250.9,935.5999999999999) scale(1,1.075)" font-size="14.6" text-anchor="middle" font-weight="normal" font-style="normal" fill="#222" >No-NIF</text>
<line x1="161.7" y1="841.1" x2="161.7" y2="845" stroke="#000" stroke-width="2.0" />
<line x1="161.7" y1="893.1" x2="161.7" y2="895" stroke="#000" stroke-width="2.0" />
<line x1="147.0" y1="841.1" x2="176.39999999999998" y2="841.1" stroke="#000" stroke-width="2.0" />
<line x1="147.0" y1="895" x2="176.39999999999998" y2="895" stroke="#000" stroke-width="2.0" />
<rect x="132.7" y="845" width="58" height="48.10000000000002" fill="none" stroke="#000" stroke-width="2.0"/>
<line x1="132.7" y1="882.9" x2="190.7" y2="882.9" stroke="#000" stroke-width="2.0" />
<line x1="250.9" y1="748" x2="250.9" y2="890.6" stroke="#000" stroke-width="2.0" />
<line x1="250.9" y1="895.5" x2="250.9" y2="896.5" stroke="#000" stroke-width="2.0" />
<line x1="236.20000000000002" y1="748" x2="265.6" y2="748" stroke="#000" stroke-width="2.0" />
<line x1="236.20000000000002" y1="896.5" x2="265.6" y2="896.5" stroke="#000" stroke-width="2.0" />
<rect x="221.9" y="890.6" width="58" height="4.899999999999977" fill="none" stroke="#000" stroke-width="2.0"/>
<line x1="221.9" y1="893" x2="279.9" y2="893" stroke="#000" stroke-width="2.0" />
<circle cx="171.3" cy="840.8" r="3.95" fill="#fff" stroke="#ff0000" stroke-width="2.1"/>
<circle cx="151.4" cy="844" r="3.95" fill="#fff" stroke="#ff0000" stroke-width="2.1"/>
<circle cx="151.4" cy="876.1" r="3.95" fill="#fff" stroke="#ff0000" stroke-width="2.1"/>
<circle cx="141.7" cy="885.1" r="3.95" fill="#fff" stroke="#ff0000" stroke-width="2.1"/>
<circle cx="171.3" cy="882.9" r="3.95" fill="#fff" stroke="#ff0000" stroke-width="2.1"/>
<circle cx="161.7" cy="893.8" r="3.95" fill="#fff" stroke="#ff0000" stroke-width="2.1"/>
<circle cx="180.9" cy="895.1" r="3.95" fill="#fff" stroke="#ff0000" stroke-width="2.1"/>
<rect x="247.25" y="744.35" width="7.3" height="7.3" fill="#fff" stroke="#0000ff" stroke-width="1.9"/>
<rect x="247.25" y="824.65" width="7.3" height="7.3" fill="#fff" stroke="#0000ff" stroke-width="1.9"/>
<rect x="247.25" y="859.95" width="7.3" height="7.3" fill="#fff" stroke="#0000ff" stroke-width="1.9"/>
<rect x="224.45" y="883.85" width="7.3" height="7.3" fill="#fff" stroke="#0000ff" stroke-width="1.9"/>
<rect x="240.35" y="884.35" width="7.3" height="7.3" fill="#fff" stroke="#0000ff" stroke-width="1.9"/>
<rect x="247.45" y="880.55" width="7.3" height="7.3" fill="#fff" stroke="#0000ff" stroke-width="1.9"/>
<rect x="251.85" y="884.35" width="7.3" height="7.3" fill="#fff" stroke="#0000ff" stroke-width="1.9"/>
<rect x="247.45" y="885.55" width="7.3" height="7.3" fill="#fff" stroke="#0000ff" stroke-width="1.9"/>
<rect x="221.25" y="891.55" width="7.3" height="7.3" fill="#fff" stroke="#0000ff" stroke-width="1.9"/>
<rect x="226.15" y="893.15" width="7.3" height="7.3" fill="#fff" stroke="#0000ff" stroke-width="1.9"/>
<rect x="234.35" y="893.15" width="7.3" height="7.3" fill="#fff" stroke="#0000ff" stroke-width="1.9"/>
<rect x="243.15" y="893.15" width="7.3" height="7.3" fill="#fff" stroke="#0000ff" stroke-width="1.9"/>
<rect x="245.85" y="889.85" width="7.3" height="7.3" fill="#fff" stroke="#0000ff" stroke-width="1.9"/>
<rect x="251.85" y="893.15" width="7.3" height="7.3" fill="#fff" stroke="#0000ff" stroke-width="1.9"/>
<rect x="257.35" y="893.15" width="7.3" height="7.3" fill="#fff" stroke="#0000ff" stroke-width="1.9"/>
<rect x="258.85" y="893.15" width="7.3" height="7.3" fill="#fff" stroke="#0000ff" stroke-width="1.9"/>
<rect x="263.95" y="893.15" width="7.3" height="7.3" fill="#fff" stroke="#0000ff" stroke-width="1.9"/>
<rect x="272.15" y="893.15" width="7.3" height="7.3" fill="#fff" stroke="#0000ff" stroke-width="1.9"/>
<text x="364.8" y="737.5" font-size="23" text-anchor="start" font-weight="bold" font-style="normal" fill="#000" >g</text>
<text x="551.6" y="722.1999999999999" font-size="14.5" text-anchor="middle" font-weight="bold" font-style="italic" fill="#222" >Adlercreutzia</text>
<text transform="translate(547.8,747.5) scale(1,1.055)" font-size="13.5" text-anchor="middle" font-weight="normal" font-style="normal" fill="#333" >P = 0.0064</text>
<line x1="446" y1="738.4" x2="446" y2="912.5" stroke="#333" stroke-width="1.3" />
<line x1="439.0" y1="912.3" x2="446" y2="912.3" stroke="#333" stroke-width="1.3" />
<text x="436.7" y="916.584" font-size="11.9" text-anchor="end" font-weight="normal" font-style="normal" fill="#333" >-0.005</text>
<line x1="439.0" y1="877.52" x2="446" y2="877.52" stroke="#333" stroke-width="1.3" />
<text x="436.7" y="881.804" font-size="11.9" text-anchor="end" font-weight="normal" font-style="normal" fill="#333" >0.000</text>
<line x1="439.0" y1="842.74" x2="446" y2="842.74" stroke="#333" stroke-width="1.3" />
<text x="436.7" y="847.024" font-size="11.9" text-anchor="end" font-weight="normal" font-style="normal" fill="#333" >0.005</text>
<line x1="439.0" y1="807.9599999999999" x2="446" y2="807.9599999999999" stroke="#333" stroke-width="1.3" />
<text x="436.7" y="812.2439999999999" font-size="11.9" text-anchor="end" font-weight="normal" font-style="normal" fill="#333" >0.010</text>
<line x1="439.0" y1="773.18" x2="446" y2="773.18" stroke="#333" stroke-width="1.3" />
<text x="436.7" y="777.4639999999999" font-size="11.9" text-anchor="end" font-weight="normal" font-style="normal" fill="#333" >0.015</text>
<line x1="439.0" y1="738.4" x2="446" y2="738.4" stroke="#333" stroke-width="1.3" />
<text x="436.7" y="742.684" font-size="11.9" text-anchor="end" font-weight="normal" font-style="normal" fill="#333" >0.020</text>
<line x1="446" y1="912.5" x2="654.5" y2="912.5" stroke="#333" stroke-width="1.4" />
<line x1="505.8" y1="912.5" x2="505.8" y2="919.9" stroke="#333" stroke-width="1.4" />
<line x1="595.7" y1="912.5" x2="595.7" y2="919.9" stroke="#333" stroke-width="1.4" />
<line x1="451.5" y1="877.9" x2="651.7" y2="877.9" stroke="#000" stroke-width="2.3" stroke-dasharray="0 5.85" stroke-linecap="round"/>
<text transform="translate(391.3,824.4) rotate(-90)" font-size="14.5" text-anchor="middle" fill="#222">Relative abundance</text>
<text transform="translate(505.8,935.3) scale(1,1.075)" font-size="14.6" text-anchor="middle" font-weight="normal" font-style="normal" fill="#222" >NIF</text>
<text transform="translate(595.7,935.3) scale(1,1.075)" font-size="14.6" text-anchor="middle" font-weight="normal" font-style="normal" fill="#222" >No-NIF</text>
<line x1="505.8" y1="835.4" x2="505.8" y2="857.3" stroke="#000" stroke-width="2.0" />
<line x1="505.8" y1="874.6" x2="505.8" y2="877.2" stroke="#000" stroke-width="2.0" />
<line x1="491.1" y1="835.4" x2="520.5" y2="835.4" stroke="#000" stroke-width="2.0" />
<line x1="491.1" y1="877.2" x2="520.5" y2="877.2" stroke="#000" stroke-width="2.0" />
<rect x="476.8" y="857.3" width="58" height="17.300000000000068" fill="none" stroke="#000" stroke-width="2.0"/>
<line x1="476.8" y1="868.2" x2="534.8" y2="868.2" stroke="#000" stroke-width="2.0" />
<line x1="595.7" y1="754.9" x2="595.7" y2="871.3" stroke="#000" stroke-width="2.0" />
<line x1="595.7" y1="877" x2="595.7" y2="878" stroke="#000" stroke-width="2.0" />
<line x1="581.0" y1="754.9" x2="610.4000000000001" y2="754.9" stroke="#000" stroke-width="2.0" />
<line x1="581.0" y1="878" x2="610.4000000000001" y2="878" stroke="#000" stroke-width="2.0" />
<rect x="566.7" y="871.3" width="58" height="5.7000000000000455" fill="none" stroke="#000" stroke-width="2.0"/>
<line x1="566.7" y1="874.5" x2="624.7" y2="874.5" stroke="#000" stroke-width="2.0" />
<circle cx="505.5" cy="835.4" r="3.95" fill="#fff" stroke="#ff0000" stroke-width="2.1"/>
<circle cx="505.5" cy="856" r="3.95" fill="#fff" stroke="#ff0000" stroke-width="2.1"/>
<circle cx="481.7" cy="866.6" r="3.95" fill="#fff" stroke="#ff0000" stroke-width="2.1"/>
<circle cx="493.6" cy="867.2" r="3.95" fill="#fff" stroke="#ff0000" stroke-width="2.1"/>
<circle cx="505.5" cy="869.1" r="3.95" fill="#fff" stroke="#ff0000" stroke-width="2.1"/>
<circle cx="517.1" cy="876.2" r="3.95" fill="#fff" stroke="#ff0000" stroke-width="2.1"/>
<circle cx="529" cy="877.8" r="3.95" fill="#fff" stroke="#ff0000" stroke-width="2.1"/>
<rect x="591.85" y="751.25" width="7.3" height="7.3" fill="#fff" stroke="#0000ff" stroke-width="1.9"/>
<rect x="568.35" y="863.85" width="7.3" height="7.3" fill="#fff" stroke="#0000ff" stroke-width="1.9"/>
<rect x="583.15" y="863.85" width="7.3" height="7.3" fill="#fff" stroke="#0000ff" stroke-width="1.9"/>
<rect x="587.35" y="866.35" width="7.3" height="7.3" fill="#fff" stroke="#0000ff" stroke-width="1.9"/>
<rect x="592.45" y="857.85" width="7.3" height="7.3" fill="#fff" stroke="#0000ff" stroke-width="1.9"/>
<rect x="594.65" y="866.65" width="7.3" height="7.3" fill="#fff" stroke="#0000ff" stroke-width="1.9"/>
<rect x="565.65" y="874.25" width="7.3" height="7.3" fill="#fff" stroke="#0000ff" stroke-width="1.9"/>
<rect x="572.75" y="874.25" width="7.3" height="7.3" fill="#fff" stroke="#0000ff" stroke-width="1.9"/>
<rect x="580.45" y="874.25" width="7.3" height="7.3" fill="#fff" stroke="#0000ff" stroke-width="1.9"/>
<rect x="587.55" y="874.25" width="7.3" height="7.3" fill="#fff" stroke="#0000ff" stroke-width="1.9"/>
<rect x="594.65" y="874.25" width="7.3" height="7.3" fill="#fff" stroke="#0000ff" stroke-width="1.9"/>
<rect x="602.35" y="874.25" width="7.3" height="7.3" fill="#fff" stroke="#0000ff" stroke-width="1.9"/>
<rect x="609.35" y="874.25" width="7.3" height="7.3" fill="#fff" stroke="#0000ff" stroke-width="1.9"/>
<rect x="615.95" y="874.25" width="7.3" height="7.3" fill="#fff" stroke="#0000ff" stroke-width="1.9"/>
</svg>
</body></html>
